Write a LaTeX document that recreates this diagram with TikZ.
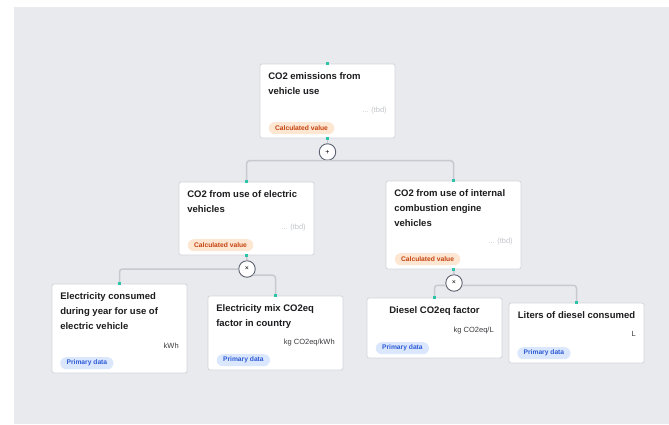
\documentclass[tikz,border=0pt]{standalone}
\usepackage{fontspec}
\setmainfont{Liberation Sans}
\usetikzlibrary{positioning,calc}

\definecolor{canvas}{HTML}{E9EAEE}
\definecolor{cardline}{HTML}{D3D5DA}
\definecolor{wirec}{HTML}{C7C9CF}
\definecolor{portc}{HTML}{2CC3A6}
\definecolor{opline}{HTML}{5D6271}
\definecolor{calcbg}{HTML}{FDE6D2}
\definecolor{calctext}{HTML}{C4420E}
\definecolor{primbg}{HTML}{DBE7FC}
\definecolor{primtext}{HTML}{2D5BD6}
\definecolor{tbdtext}{HTML}{C4C6CB}
\definecolor{titletext}{HTML}{1C1C1F}
\definecolor{unittext}{HTML}{3B3B3F}

\tikzset{
  card/.style={draw=cardline,line width=0.8pt,fill=white,rounded corners=2pt,minimum width=135pt,inner sep=0pt},
  cardtitle/.style={font=\fontsize{9.5}{15}\selectfont\bfseries,text=titletext,align=left,inner sep=0pt},
  tbdnote/.style={font=\fontsize{7.5}{9}\selectfont,text=tbdtext,inner sep=0pt,anchor=east},
  unitnote/.style={font=\fontsize{7.5}{9}\selectfont,text=unittext,inner sep=0pt,anchor=east},
  badge/.style={rounded corners=6pt,minimum height=12pt,inner xsep=6.3pt,inner ysep=0pt,anchor=south west,font=\fontsize{6.7}{8}\selectfont\bfseries},
  calcbadge/.style={badge,fill=calcbg,text=calctext},
  primbadge/.style={badge,fill=primbg,text=primtext},
  op/.style={circle,draw=opline,line width=0.9pt,fill=white,minimum size=16.5pt,inner sep=0pt,font=\fontsize{7}{7}\selectfont},
  wire/.style={draw=wirec,line width=1.5pt,rounded corners=3pt},
  port/.style={fill=portc,inner sep=0pt,minimum size=3pt}
}

\begin{document}
\begin{tikzpicture}[x=1pt,y=-1pt]
  \useasboundingbox (0,0) rectangle (669,424);
  \fill[canvas] (14,7) rectangle (669,424);

  \node[card,minimum height=74pt] (total) at (327.5,101) {};
  \node[cardtitle,below right=8.5pt and 8.5pt of total.north west] (totalt) {CO2 emissions from\\vehicle use};
  \node[tbdnote] (totaln) at ($(total.south east)+(-8.5,-28)$) {... (tbd)};
  \node[calcbadge] (totalb) at ($(total.south west)+(9,-4)$) {Calculated value};

  \node[card,minimum height=73pt] (ev) at (246.5,218.5) {};
  \node[cardtitle,below right=8.5pt and 8.5pt of ev.north west] (evt) {CO2 from use of electric\\vehicles};
  \node[tbdnote] (evn) at ($(ev.south east)+(-8.5,-28)$) {... (tbd)};
  \node[calcbadge] (evb) at ($(ev.south west)+(9,-4)$) {Calculated value};

  \node[card,minimum height=88pt] (ice) at (453.5,225) {};
  \node[cardtitle,below right=8.5pt and 8.5pt of ice.north west] (icet) {CO2 from use of internal\\combustion engine\\vehicles};
  \node[tbdnote] (icen) at ($(ice.south east)+(-8.5,-28)$) {... (tbd)};
  \node[calcbadge] (iceb) at ($(ice.south west)+(9,-4)$) {Calculated value};

  \node[card,minimum height=89pt] (elec) at (119.5,328.5) {};
  \node[cardtitle,below right=8.5pt and 8.5pt of elec.north west] (elect) {Electricity consumed\\during year for use of\\electric vehicle};
  \node[unitnote] (elecu) at ($(elec.south east)+(-8.5,-28)$) {kWh};
  \node[primbadge] (elecb) at ($(elec.south west)+(8.5,-4)$) {Primary data};

  \node[card,minimum height=74pt] (mix) at (275.5,333) {};
  \node[cardtitle,below right=8.5pt and 8.5pt of mix.north west] (mixt) {Electricity mix CO2eq\\factor in country};
  \node[unitnote] (mixu) at ($(mix.south east)+(-8.5,-28)$) {kg CO2eq/kWh};
  \node[primbadge] (mixb) at ($(mix.south west)+(9,-4)$) {Primary data};

  \node[card,minimum height=60pt] (dfac) at (434.5,328) {};
  \node[cardtitle,below=8.5pt of dfac.north] (dfact) {Diesel CO2eq factor};
  \node[unitnote] (dfacu) at ($(dfac.south east)+(-8.5,-28)$) {kg CO2eq/L};
  \node[primbadge] (dfacb) at ($(dfac.south west)+(9,-4)$) {Primary data};

  \node[card,minimum height=60pt] (liters) at (576.5,333) {};
  \node[cardtitle,below=8.5pt of liters.north] (literst) {Liters of diesel consumed};
  \node[unitnote] (litersu) at ($(liters.south east)+(-8.5,-29)$) {L};
  \node[primbadge] (litersb) at ($(liters.south west)+(8.5,-4)$) {Primary data};

  \node[op] (sum) at (327.5,152) {+};
  \node[op] (mulev) at (247,269) {×};
  \node[op] (mulice) at (454,283) {×};

  \draw[wire] (total.south) -- (sum.north);
  \draw[wire] (sum.south) -| (ev.north);
  \draw[wire] (sum.south) -| (ice.north);
  \draw[wire] (ev.south) -- (mulev.north);
  \draw[wire] (mulev.west) -| (elec.north);
  \draw[wire] (mulev.-45) -| (mix.north);
  \draw[wire] (ice.south) -- (mulice.north);
  \draw[wire] (mulice.195) -| (dfac.north);
  \draw[wire] (mulice.-15) -| (liters.north);

  \foreach \p in {total.north,total.south,ev.north,ev.south,ice.north,ice.south,elec.north,mix.north,dfac.north,liters.north}
    \node[port] at (\p) {};
\end{tikzpicture}
\end{document}
